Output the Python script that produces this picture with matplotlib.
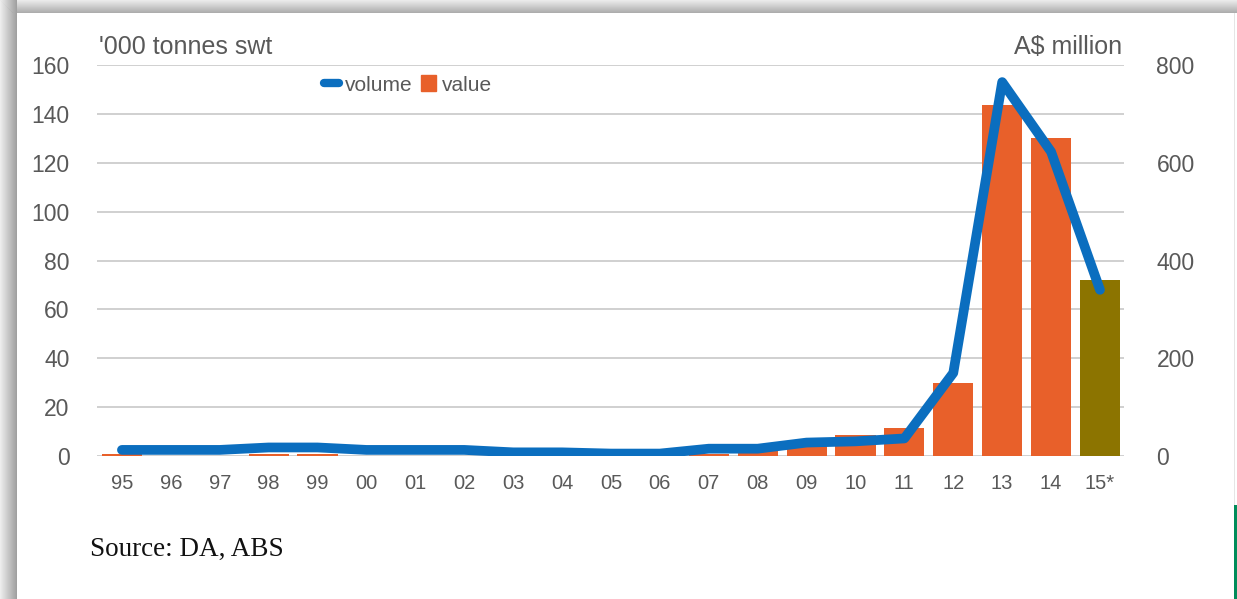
import matplotlib.pyplot as plt
import numpy as np

# Exports by year: volume ('000 tonnes swt) and value (A$ million)
years = ['95', '96', '97', '98', '99', '00', '01', '02', '03', '04', '05',
         '06', '07', '08', '09', '10', '11', '12', '13', '14', '15*']
volume = [2.5, 2.5, 2.5, 3.5, 3.5, 2.5, 2.5, 2.5, 1.5, 1.5, 1,
          1, 3, 3, 5.5, 6, 7.2, 34, 153, 124.5, 68]
value = [5, 0, 0, 5, 5, 0, 0, 0, 0, 0, 0,
         0, 5, 10, 25, 42, 58, 150, 718, 650, 360]

grey = '#595959'
blue = '#0B6EBF'
orange = '#E8602A'
olive = '#8C7400'

plt.rcParams['font.family'] = ['Liberation Sans', 'DejaVu Sans']

fig = plt.figure(figsize=(12.37, 5.99), dpi=100)

# card background with a soft grey edge on the left and top
H, W = 599, 1237
bg = np.ones((H, W, 3))
for i in range(17):
    g = 0.93 - 0.30 * i / 16
    bg[:, i, :] = g
for j in range(13):
    g = 0.92 - 0.24 * j / 12
    bg[j, j:, :] = np.minimum(bg[j, j:, :], g)
bg[13:505, 1234, :] = 0.9
bg[505:, 1234:, :] = np.array([0, 140, 90]) / 255.0
bax = fig.add_axes([0, 0, 1, 1], zorder=-10)
bax.imshow(bg, aspect='auto', extent=(0, W, H, 0))
bax.axis('off')

ax = fig.add_axes([0.0788, 0.2387, 0.8302, 0.6528])
ax2 = ax.twinx()
ax.set_zorder(2)
ax.patch.set_visible(False)

x = np.arange(len(years))
colors = [orange] * (len(years) - 1) + [olive]
ax2.bar(x, value, width=0.82, color=colors, zorder=2)
ax2.set_ylim(0, 800)
ax2.set_yticks(range(0, 801, 200))
ax2.set_yticks(range(100, 800, 200), minor=True)
ax2.grid(axis='y', which='both', color='#c8c8c8', linewidth=1.2, zorder=0)
ax2.set_axisbelow(True)

ax.plot(x, volume, color=blue, linewidth=7, solid_joinstyle='round',
        solid_capstyle='round', zorder=3)
ax.set_ylim(0, 160)
ax.set_yticks(range(0, 161, 20))
ax.set_xlim(-0.5, len(years) - 0.5)
ax.set_xticks(x)
ax.set_xticklabels(years)

for a in (ax, ax2):
    for s in a.spines.values():
        s.set_visible(False)
    a.tick_params(which='both', length=0, colors=grey, labelsize=16.5)
ax.tick_params(axis='y', pad=20)
ax2.tick_params(axis='y', pad=23)
ax.tick_params(axis='x', labelsize=14.5, pad=13)

fig.text(0.080, 0.902, "'000 tonnes swt", color=grey, fontsize=18, va='bottom')
fig.text(0.907, 0.902, 'A$ million', color=grey, fontsize=18, va='bottom', ha='right')

# legend
hv = plt.Line2D([], [], color=blue, linewidth=6, solid_capstyle='round')
ho = plt.Rectangle((0, 0), 1, 1, color=orange)
fig.legend([hv, ho], ['volume', 'value'], loc='center left',
           bbox_to_anchor=(0.247, 0.858), ncol=2, frameon=False,
           fontsize=15, handlelength=0.7, handleheight=0.8,
           handletextpad=0.3, columnspacing=0.4, labelcolor=grey)

fig.text(0.073, 0.072, 'Source: DA, ABS', fontsize=19.5,
         family=['Liberation Serif', 'DejaVu Serif'], color='#111111')

fig.savefig('out.png', dpi=100)
